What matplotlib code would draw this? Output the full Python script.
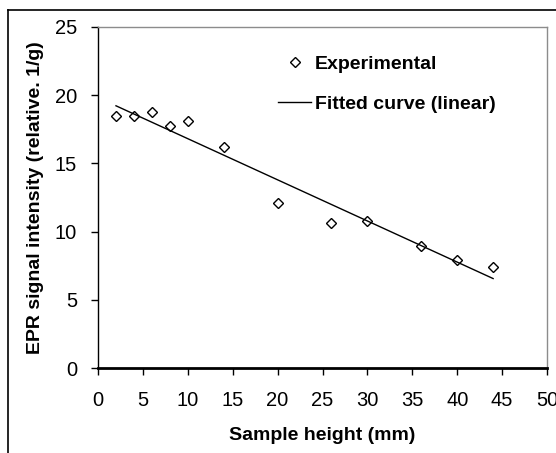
import matplotlib
matplotlib.use("Agg")
import matplotlib.pyplot as plt
from matplotlib.lines import Line2D
import numpy as np

plt.rcParams['font.family'] = ['Liberation Sans', 'DejaVu Sans']

# sample height (mm) vs EPR signal intensity
height_mm = [2, 4, 6, 8, 10, 14, 20, 26, 30, 36, 40, 44]
epr_signal = [18.45, 18.45, 18.8, 17.75, 18.1, 16.2, 12.1, 10.65, 10.8, 8.95, 7.9, 7.4]

x_ticks = [0, 5, 10, 15, 20, 25, 30, 35, 40, 45, 50]
y_ticks = [0, 5, 10, 15, 20, 25]

# linear fit over the measured range
slope, intercept = np.polyfit(height_mm, epr_signal, 1)
fit_x = np.array([min(height_mm), max(height_mm)])
fit_y = slope * fit_x + intercept

fig = plt.figure(figsize=(5.56, 4.53), dpi=100)
ax = fig.add_axes([0.1763, 0.1876, 0.9838 - 0.1763, 0.9404 - 0.1876])

ax.plot(height_mm, epr_signal, 'D', ms=5.3, mfc='white', mec='black', mew=1.0,
        label='Experimental', linestyle='none')
ax.plot(fit_x, fit_y, '-', color='black', lw=1.0, label='Fitted curve (linear)')

ax.set_xlim(0, 50)
ax.set_ylim(0, 25)
ax.set_xticks(x_ticks)
ax.set_yticks(y_ticks)
ax.tick_params(direction='out', length=5, width=1, labelsize=14.5)
ax.tick_params(axis='x', pad=11.5)
ax.tick_params(axis='y', pad=10)

for s in ['top', 'right']:
    ax.spines[s].set_color('#8c8c8c')
    ax.spines[s].set_linewidth(1.0)
ax.spines['left'].set_linewidth(1.0)
ax.spines['bottom'].set_linewidth(2.0)

ax.set_xlabel('Sample height (mm)', fontsize=14, fontweight='bold', labelpad=12)
ax.set_ylabel('EPR signal intensity (relative. 1/g)', fontsize=14, fontweight='bold', labelpad=8)

ax.legend(loc='upper left', bbox_to_anchor=(0.384, 0.94), frameon=False,
          prop={'weight': 'bold', 'size': 14},
          handlelength=1.7, handletextpad=0.2, labelspacing=1.15, borderaxespad=0)

# chart-area frame
fig.add_artist(Line2D([0.0144, 1.0], [0.979, 0.979], color='black', lw=1.2, transform=fig.transFigure))
fig.add_artist(Line2D([0.0144, 0.0144], [0.0, 0.979], color='black', lw=1.2, transform=fig.transFigure))

fig.savefig('out.png', dpi=100)
